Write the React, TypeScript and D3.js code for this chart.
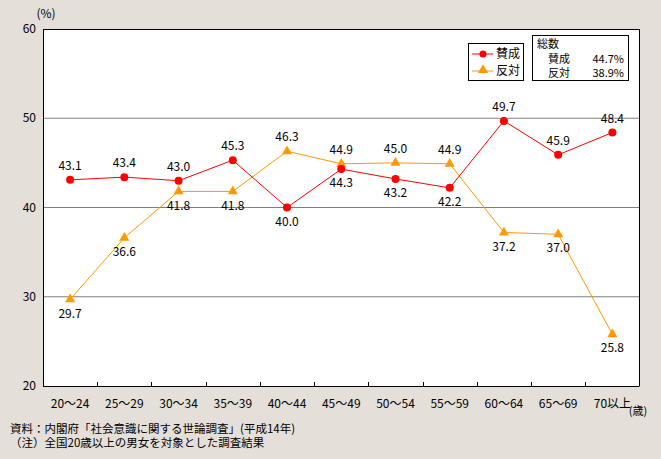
import React from "react";
import * as d3 from "d3";

const categories = ["20～24", "25～29", "30～34", "35～39", "40～44", "45～49", "50～54", "55～59", "60～64", "65～69", "70以上"];
const agree = [43.1, 43.4, 43.0, 45.3, 40.0, 44.3, 43.2, 42.2, 49.7, 45.9, 48.4];
const oppose = [29.7, 36.6, 41.8, 41.8, 46.3, 44.9, 45.0, 44.9, 37.2, 37.0, 25.8];
// label placement: true = above point
const agreeAbove = [true, true, true, true, false, false, false, false, true, true, true];
const opposeAbove = [false, false, false, false, true, true, true, true, false, false, false];
const yTicks = [20, 30, 40, 50, 60];
const seriesNames = ["賛成", "反対"];
const totals = ["44.7%", "38.9%"];
const sourceLines = ["資料：内閣府「社会意識に関する世論調査」(平成14年)", "（注）全国20歳以上の男女を対象とした調査結果"];

const W = 661, H = 459;
const L = 43, R = 639.5, T = 29, B = 386;
const RED = "#ff0000", ORANGE = "#ff9900";
const FONT = "'Noto Sans CJK JP', 'DejaVu Sans', sans-serif";

export default function App() {
  const x = d3.scaleBand().domain(categories).range([L, R]);
  const y = d3.scaleLinear().domain([20, 60]).range([B, T]);
  const cx = (c: string) => (x(c) as number) + x.bandwidth() / 2;
  const line = d3.line<number>().x((_, i) => cx(categories[i])).y((d) => y(d));
  const tri = d3.symbol().type(d3.symbolTriangle).size(44)();

  return (
    <svg width={W} height={H} style={{ position: "absolute", left: 0, top: 0, display: "block" }} fontFamily={FONT}>
      <rect x={0} y={0} width={W} height={H} fill="#e5dfd9" />
      <rect x={L} y={T} width={R - L} height={B - T} fill="#ffffff" />
      {yTicks.filter((t) => t > 20 && t < 60).map((t) => (
        <line key={t} x1={L} x2={R} y1={y(t)} y2={y(t)} stroke="#808080" strokeWidth={1} />
      ))}
      {/* frame */}
      <line x1={L} x2={R} y1={T + 0.5} y2={T + 0.5} stroke="#000" />
      <line x1={L + 0.5} x2={L + 0.5} y1={T} y2={B} stroke="#000" />
      <line x1={R} x2={R} y1={T} y2={B} stroke="#000" />
      <line x1={L} x2={R} y1={B + 0.5} y2={B + 0.5} stroke="#000" />
      {/* x ticks at band boundaries */}
      {categories.slice(1).map((c) => (
        <line key={c} x1={Math.round(x(c) as number) + 0.5} x2={Math.round(x(c) as number) + 0.5} y1={B - 4} y2={B} stroke="#000" />
      ))}
      {/* y tick labels */}
      {yTicks.map((t) => (
        <text key={t} x={36} y={y(t)} dy="0.35em" textAnchor="end" fontSize={12} fill="#000">{t}</text>
      ))}
      <text x={46} y={18} textAnchor="middle" fontSize={12} fill="#000">(%)</text>
      {/* x labels */}
      {categories.map((c) => (
        <text key={c} x={cx(c)} y={404} dy="0.35em" textAnchor="middle" fontSize={12} fill="#000">{c}</text>
      ))}
      <text x={638} y={411} dy="0.35em" textAnchor="middle" fontSize={11} fill="#000">(歳)</text>
      {/* lines */}
      <path d={line(oppose) as string} fill="none" stroke={ORANGE} strokeWidth={1} />
      <path d={line(agree) as string} fill="none" stroke={RED} strokeWidth={1} />
      {oppose.map((v, i) => (
        <path key={"o" + i} d={tri as string} transform={`translate(${cx(categories[i])},${y(v)})`} fill={ORANGE} />
      ))}
      {agree.map((v, i) => (
        <circle key={"a" + i} cx={cx(categories[i])} cy={y(v)} r={4} fill={RED} />
      ))}
      {agree.map((v, i) => (
        <text key={"al" + i} x={cx(categories[i])} y={y(v) + (agreeAbove[i] ? -14 : 14)} dy="0.35em" textAnchor="middle" fontSize={12} fill="#000">{v.toFixed(1)}</text>
      ))}
      {oppose.map((v, i) => (
        <text key={"ol" + i} x={cx(categories[i])} y={y(v) + (opposeAbove[i] ? -14 : 14)} dy="0.35em" textAnchor="middle" fontSize={12} fill="#000">{v.toFixed(1)}</text>
      ))}
      {/* legend */}
      <rect x={468.5} y={43.5} width={55} height={37} fill="#fff" stroke="#000" />
      <line x1={472} x2={493} y1={54} y2={54} stroke={RED} />
      <circle cx={483} cy={54} r={3.5} fill={RED} />
      <text x={496} y={54} dy="0.35em" fontSize={12} fill="#000">{seriesNames[0]}</text>
      <line x1={472} x2={493} y1={71} y2={71} stroke={ORANGE} />
      <path d={tri as string} transform="translate(483,70)" fill={ORANGE} />
      <text x={496} y={71} dy="0.35em" fontSize={12} fill="#000">{seriesNames[1]}</text>
      {/* totals */}
      <rect x={532.5} y={35.5} width={96} height={45} fill="#fff" stroke="#000" />
      <text x={537} y={44} dy="0.35em" fontSize={11} fill="#000">総数</text>
      <text x={548} y={59} dy="0.35em" fontSize={11} fill="#000">{seriesNames[0]}</text>
      <text x={624} y={59} dy="0.35em" textAnchor="end" fontSize={11} fill="#000">{totals[0]}</text>
      <text x={548} y={73.5} dy="0.35em" fontSize={11} fill="#000">{seriesNames[1]}</text>
      <text x={624} y={73.5} dy="0.35em" textAnchor="end" fontSize={11} fill="#000">{totals[1]}</text>
      {/* source */}
      <text x={10} y={428.5} dy="0.35em" fontSize={11.5} fill="#000">{sourceLines[0]}</text>
      <text x={10} y={443} dy="0.35em" fontSize={11.5} fill="#000">{sourceLines[1]}</text>
    </svg>
  );
}
